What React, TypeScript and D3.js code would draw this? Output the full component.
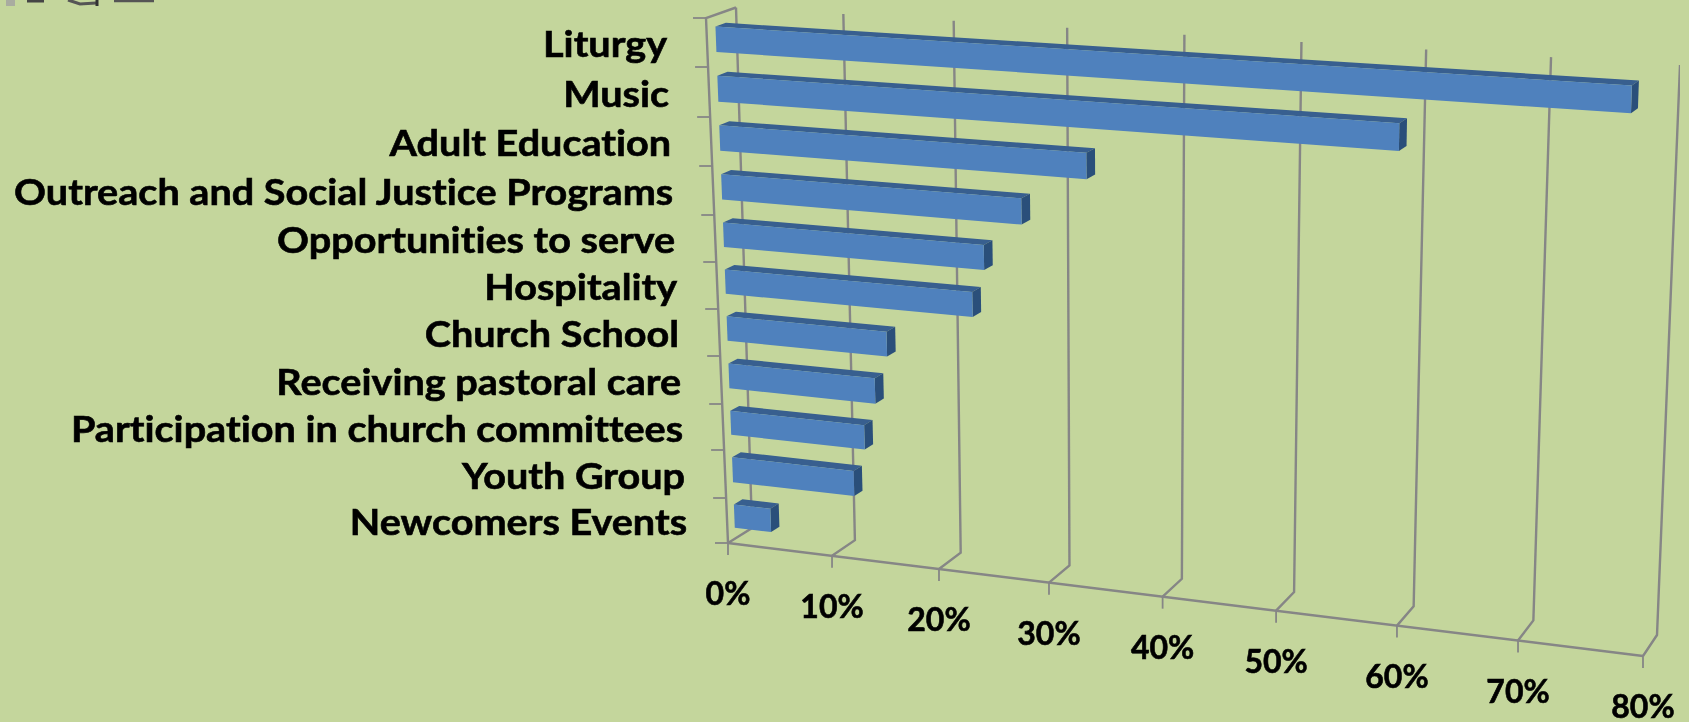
import * as d3 from 'd3';
import React, { useEffect, useRef } from 'react';

const categories = [
  'Liturgy', 'Music', 'Adult Education', 'Outreach and Social Justice Programs',
  'Opportunities to serve', 'Hospitality', 'Church School', 'Receiving pastoral care',
  'Participation in church committees', 'Youth Group', 'Newcomers Events',
];
const values = [77.4, 59.2, 33.1, 27.4, 24, 22.9, 15, 13.8, 12.7, 11.6, 3.5];
const xTicks = [0, 10, 20, 30, 40, 50, 60, 70, 80];

// the 3D box is in perspective, so the axes are piecewise scales
const xKnots = [0, 0.1137, 0.2306, 0.3508, 0.475, 0.599, 0.7311, 0.8634, 1];
const rowKnots = [18, 67, 117, 166, 215, 262, 309, 356, 404, 450, 498, 543];

const WIDTH = 1689;
const HEIGHT = 722;
const FONT = 'Lato, "Open Sans", sans-serif';
const GRID = '#868686';

type Pt = [number, number];
const lerp = (a: Pt, b: Pt, t: number): Pt => [a[0] + (b[0] - a[0]) * t, a[1] + (b[1] - a[1]) * t];

// corners of the chart box
const frontBottom: [Pt, Pt] = [[728, 543], [1643, 656]];
const frontTop: [Pt, Pt] = [[706, 18], [1660, 79]];
const backBottom: [Pt, Pt] = [[752, 528], [1657, 635]];
const backTop: [Pt, Pt] = [[736, 7.5], [1680, 65]];

const BAR_FRONT = 0.3;
const BAR_BACK = 0.65;
const BAR_PAD = 0.24;

const App: React.FC = () => {
  const svgRef = useRef<SVGSVGElement>(null);

  useEffect(() => {
    if (!svgRef.current) return;
    const svg = d3.select(svgRef.current);
    svg.selectAll('*').remove();

    const u = d3.scaleLinear().domain(xTicks).range(xKnots);
    const row = d3.scaleLinear().domain(d3.range(rowKnots.length)).range(rowKnots);
    const heightOf = (r: number) => (543 - row(r)) / (543 - 18);

    // value, row position and depth (0 front, 1 back) to a pixel
    const project = (v: number, r: number, d: number): Pt => {
      const t = u(v);
      const h = heightOf(r);
      const front = lerp(lerp(frontBottom[0], frontBottom[1], t), lerp(frontTop[0], frontTop[1], t), h);
      const back = lerp(lerp(backBottom[0], backBottom[1], t), lerp(backTop[0], backTop[1], t), h);
      return lerp(front, back, d);
    };

    const line = d3.line<Pt>();

    // the reference is an upscaled screenshot, so everything is a little soft
    svg.append('defs').append('filter')
      .attr('id', 'soft')
      .attr('x', 0).attr('y', 0).attr('width', 1).attr('height', 1)
      .append('feGaussianBlur')
      .attr('stdDeviation', 0.6);

    svg.append('rect').attr('width', WIDTH).attr('height', HEIGHT).attr('fill', '#c4d69c');

    const root = svg.append('g').attr('filter', 'url(#soft)');

    // stray bits of a cropped toolbar at the top left corner
    const scraps: { pts: Pt[]; color: string; w: number }[] = [
      { pts: [[6, 3], [15, 3]], color: '#a9aca0', w: 6 },
      { pts: [[27, 1], [44, 1]], color: '#444', w: 3 },
      { pts: [[68, 0], [80, 4], [96, 3]], color: '#555', w: 3 },
      { pts: [[97, 0], [97, 6]], color: '#333', w: 3 },
      { pts: [[114, 1], [154, 1]], color: '#555', w: 2.5 },
    ];
    root.append('g').selectAll('path').data(scraps).join('path')
      .attr('d', d => line(d.pts))
      .attr('fill', 'none')
      .attr('stroke', d => d.color)
      .attr('stroke-width', d => d.w);

    const grid = root.append('g')
      .attr('fill', 'none')
      .attr('stroke', GRID)
      .attr('stroke-width', 2.4);

    // gridlines: up the back wall, then along the floor to the front
    grid.selectAll('path.grid').data(xTicks).join('path')
      .attr('class', 'grid')
      .attr('d', v => line([project(v, 0, 1), project(v, 11, 1), project(v, 11, 0)]));

    // x axis with ticks under it
    grid.append('path').attr('d', line([project(0, 11, 0), project(80, 11, 0)]));
    grid.selectAll('path.xtick').data(xTicks).join('path')
      .attr('class', 'xtick')
      .attr('stroke-width', 1.8)
      .attr('d', v => {
        const p = project(v, 11, 0);
        return line([p, [p[0], p[1] + 12]]);
      });

    // category axis, with the roof edge to the back wall
    grid.append('path').attr('d', line([project(0, 11, 0), project(0, 0, 0), project(0, 0, 1)]));
    grid.selectAll('path.ytick').data(d3.range(rowKnots.length)).join('path')
      .attr('class', 'ytick')
      .attr('stroke-width', 1.8)
      .attr('d', r => {
        const p = project(0, r, 0);
        return line([[p[0] - 13, p[1]], p]);
      });

    // bars: top, end and front faces
    const bars = root.append('g').selectAll('g').data(values).join('g');
    const face = (fill: string, pts: (v: number, top: number, bottom: number) => Pt[]) =>
      bars.append('path')
        .attr('fill', fill)
        .attr('d', (v, i) => line(pts(v, i + BAR_PAD, i + 1 - BAR_PAD)) + 'Z');

    face('#375f8f', (v, top) => [
      project(0, top, BAR_FRONT), project(0, top, BAR_BACK),
      project(v, top, BAR_BACK), project(v, top, BAR_FRONT),
    ]);
    face('#2c4f7a', (v, top, bottom) => [
      project(v, top, BAR_FRONT), project(v, top, BAR_BACK),
      project(v, bottom, BAR_BACK), project(v, bottom, BAR_FRONT),
    ]);
    face('#4f81bd', (v, top, bottom) => [
      project(0, top, BAR_FRONT), project(v, top, BAR_FRONT),
      project(v, bottom, BAR_FRONT), project(0, bottom, BAR_FRONT),
    ]);

    // category labels, the original type is wider than Lato so stretch them
    root.append('g').selectAll('text').data(categories).join('text')
      .attr('transform', (_, i) => `translate(${project(0, i + 0.5, 0)[0] - 40},${row(i + 0.5) + 14.5}) scale(1.1,1)`)
      .attr('text-anchor', 'end')
      .attr('font-family', FONT)
      .attr('font-weight', 700)
      .attr('font-size', 36)
      .attr('fill', '#000')
      .attr('stroke', '#000')
      .attr('stroke-width', 0.6)
      .style('font-variant-ligatures', 'none')
      .text(d => d);

    // value labels
    root.append('g').selectAll('text').data(xTicks).join('text')
      .attr('x', v => project(v, 11, 0)[0])
      .attr('y', v => project(v, 11, 0)[1] + 62)
      .attr('text-anchor', 'middle')
      .attr('font-family', FONT)
      .attr('font-weight', 700)
      .attr('font-size', 32)
      .attr('fill', '#000')
      .attr('stroke', '#000')
      .attr('stroke-width', 0.6)
      .text(d => `${d}%`);
  }, []);

  return (
    <svg
      ref={svgRef}
      width={WIDTH}
      height={HEIGHT}
      style={{ position: 'absolute', left: 0, top: 0, display: 'block' }}
    />
  );
};

export default App;
